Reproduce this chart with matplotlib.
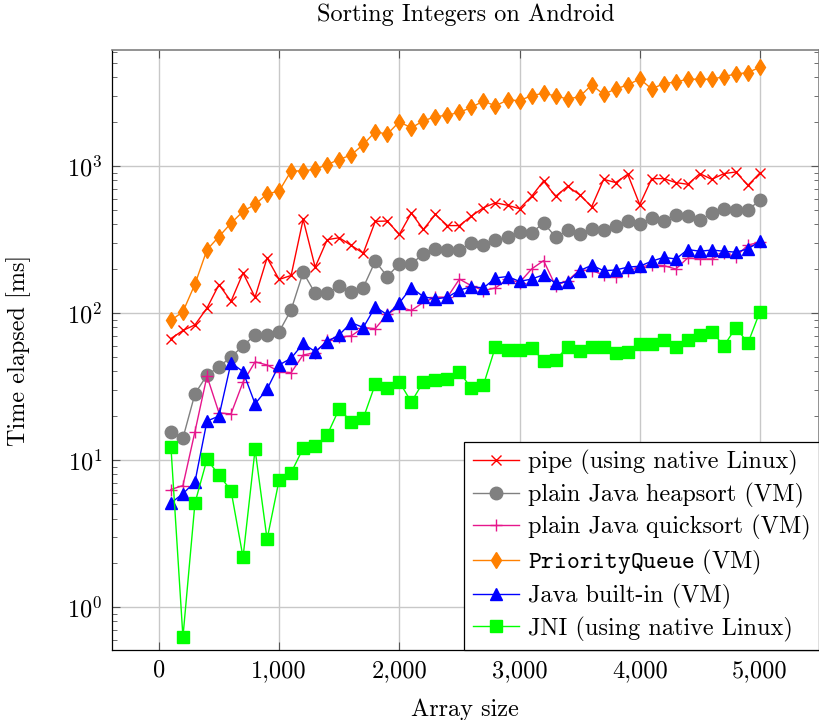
import matplotlib
matplotlib.use("Agg")
import matplotlib.pyplot as plt
from matplotlib.ticker import FuncFormatter, LogLocator, FixedLocator
import numpy as np

sizes = list(range(100, 5001, 100))

pipe = [67, 76, 83, 108, 156, 120, 187, 128, 237, 169,
        180, 433, 205, 315, 325, 288, 255, 420, 422, 342,
        478, 370, 468, 393, 393, 456, 520, 562, 540, 512,
        621, 790, 621, 726, 638, 528, 811, 771, 878, 546,
        820, 820, 771, 750, 887, 811, 887, 910, 738, 896]

heapsort = [15.6, 14.1, 28.2, 37.8, 43, 50.3, 59.7, 71, 71, 74.5,
            105, 189, 136, 136, 152, 138, 149, 225, 177, 216,
            216, 252, 273, 269, 269, 298, 288, 315, 328, 354,
            349, 411, 328, 364, 342, 370, 368, 393, 419, 400,
            444, 422, 466, 456, 426, 480, 512, 499, 504, 583]

quicksort = [6.3, 6.7, 15.6, 37.2, 20.9, 20.6, 33.9, 46.5, 44.3, 39.9,
             39.3, 51.8, 53.7, 65.3, 68.8, 69.8, 79.6, 78.3, 98, 110,
             104, 118, 128, 128, 170, 153, 142, 148, 170, 161,
             199, 227, 153, 166, 196, 194, 182, 175, 192, 205,
             213, 210, 199, 237, 233, 233, 255, 242, 290, 303]

pqueue = [89, 102, 157, 269, 331, 408, 491, 548, 644, 675,
          925, 925, 950, 1022, 1106, 1189, 1400, 1707, 1646, 1996,
          1815, 2028, 2160, 2217, 2314, 2504, 2766, 2558, 2813, 2782,
          3007, 3121, 2991, 2853, 2960, 3555, 3070, 3342, 3555, 3908,
          3342, 3631, 3727, 3890, 3890, 3890, 4053, 4225, 4315, 4700]

builtin = [5.1, 5.9, 7.1, 18.4, 19.9, 45.9, 39.9, 24.1, 30.3, 44.3,
           49.2, 62, 54.6, 63.8, 71, 86, 79.6, 110, 97.3, 117,
           149, 129, 124.5, 128, 143, 151, 148, 173, 177, 164,
           170, 182, 159, 163, 194, 211, 194, 196, 205, 208,
           225, 239, 233, 270, 263, 268, 263, 259, 273, 307]

jni = [12.3, 0.625, 5.1, 10.1, 7.9, 6.2, 2.18, 11.8, 2.89, 7.3,
       8.2, 12.0, 12.4, 14.8, 22.3, 18.2, 19.2, 32.8, 31.0, 34.0,
       24.8, 34.0, 34.9, 35.7, 39.7, 30.7, 32.4, 59, 56.1, 55.8,
       58.2, 47.2, 47.9, 58.9, 55.2, 59, 58.9, 53.7, 54.6, 61.4,
       61.4, 65.6, 59, 65.6, 70.6, 74.8, 59.7, 79.6, 62.4, 102]

labels = ["pipe (using native Linux)",
          "plain Java heapsort (VM)",
          "plain Java quicksort (VM)",
          r"$\mathtt{PriorityQueue}$ (VM)",
          "Java built-in (VM)",
          "JNI (using native Linux)"]

x_ticks = [0, 1000, 2000, 3000, 4000, 5000]
y_ticks = [1, 10, 100, 1000]

plt.rcParams['font.family'] = ['cmr10', 'DejaVu Serif']
plt.rcParams['mathtext.fontset'] = 'cm'
plt.rcParams['axes.formatter.use_mathtext'] = True

FS = 17.5

fig = plt.figure(figsize=(8.2, 7.2), dpi=100)
ax = fig.add_axes([0.1366, 0.0972, 0.862, 0.8334])

series = [
    (pipe, dict(color='#ff0000', marker='x', markersize=6.5, markeredgewidth=1.0)),
    (heapsort, dict(color='#808080', marker='o', markersize=9)),
    (quicksort, dict(color='#e6168c', marker='+', markersize=9, markeredgewidth=1.0)),
    (pqueue, dict(color='#ff8000', marker='d', markersize=8)),
    (builtin, dict(color='#0000ff', marker='^', markersize=9)),
    (jni, dict(color='#00ff00', marker='s', markersize=9)),
]

for (vals, style), lab in zip(series, labels):
    ax.plot(sizes, vals, linewidth=1.0, label=lab, **style)

ax.set_yscale('log')
ax.set_xlim(-390, 5490)
ax.set_ylim(0.51, 6150)

ax.xaxis.set_major_locator(FixedLocator(x_ticks))
ax.xaxis.set_major_formatter(FuncFormatter(lambda v, p: f"{int(v):,}"))
ax.yaxis.set_major_locator(FixedLocator(y_ticks))
ax.yaxis.set_major_formatter(FuncFormatter(lambda v, p: r"$10^{%d}$" % int(round(np.log10(v)))))
ax.yaxis.set_minor_locator(LogLocator(base=10, subs=np.arange(2, 10)))
ax.yaxis.set_minor_formatter(FuncFormatter(lambda v, p: ""))

ax.grid(True, which='major', color='#c8c8c8', linewidth=1.0)
ax.set_axisbelow(True)
ax.tick_params(which='both', direction='in', top=True, right=True, labelsize=FS, pad=7)
ax.tick_params(which='major', length=6, width=0.8, color='#555555')
ax.tick_params(which='minor', length=3.5, width=0.6, color='#555555')

for s in ['left', 'bottom']:
    ax.spines[s].set_color('black')
    ax.spines[s].set_linewidth(0.9)
for s in ['top', 'right']:
    ax.spines[s].set_color('#808080')
    ax.spines[s].set_linewidth(1.2)

ax.set_title("Sorting Integers on Android", fontsize=FS, pad=21)
ax.set_xlabel("Array size", fontsize=FS, labelpad=12)
ax.set_ylabel("Time elapsed [ms]", fontsize=FS, labelpad=26)

leg = ax.legend(loc='lower right', fontsize=FS, frameon=True, fancybox=False,
                edgecolor='black', framealpha=1.0, borderaxespad=0.0,
                handlelength=1.9, handletextpad=0.35, labelspacing=0.3,
                borderpad=0.35, numpoints=1)
leg.get_frame().set_linewidth(0.9)

fig.savefig("out.png", dpi=100)
